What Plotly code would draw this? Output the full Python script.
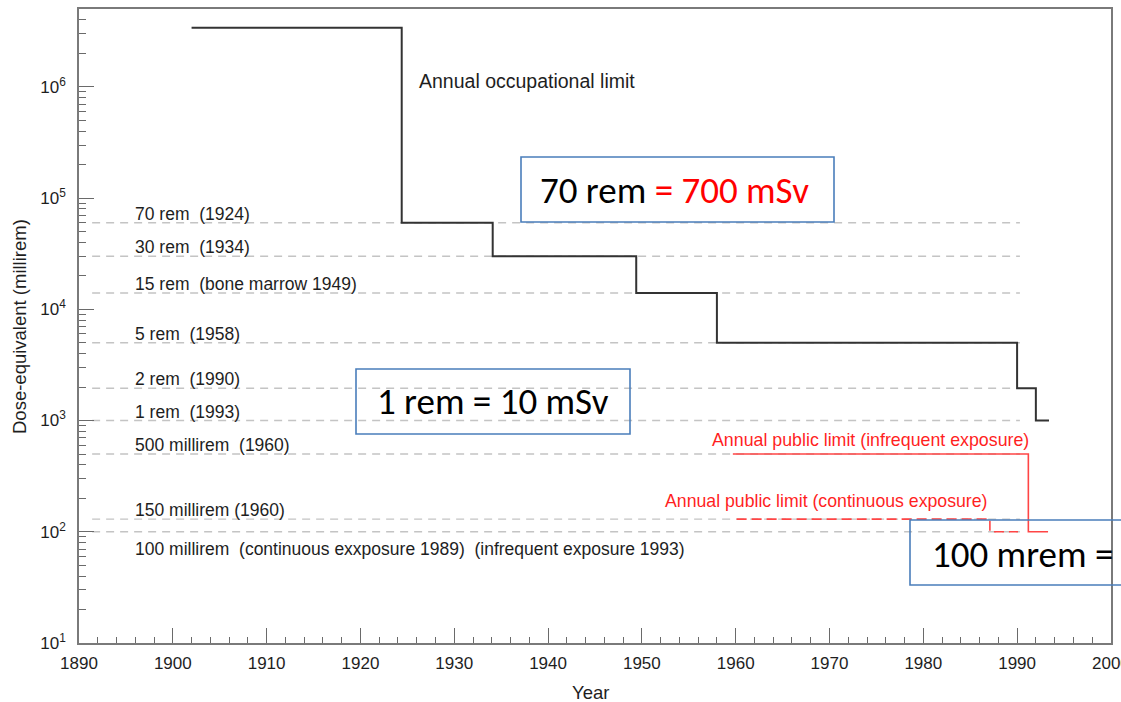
import math
import plotly.graph_objects as go

# ---------------- data ----------------
# Annual occupational limit (step curve, millirem)
occ_years = [1902, 1924.4, 1934.1, 1949.4, 1958, 1990, 1992, 1993.4]
occ_values = [3.4e6, 6e4, 3e4, 1.4e4, 5000, 1950, 1000, 1000]

# Annual public limit, infrequent exposure (solid red)
pub_inf_years = [1959.7, 1991.2, 1993.3]
pub_inf_values = [500, 100, 100]

# Annual public limit, continuous exposure (dashed red)
pub_cont_years = [1960.1, 1987.1, 1990.1]
pub_cont_values = [130, 100, 100]

# Reference levels (grey dashed lines) and their labels
ref_levels = [6e4, 3e4, 1.4e4, 5000, 1950, 1000, 500, 130, 100]
ref_labels = [
    "70 rem\u00a0 (1924)",
    "30 rem\u00a0 (1934)",
    "15 rem\u00a0 (bone marrow 1949)",
    "5 rem\u00a0 (1958)",
    "2 rem\u00a0 (1990)",
    "1 rem\u00a0 (1993)",
    "500 millirem\u00a0 (1960)",
    "150 millirem (1960)",
    "100 millirem\u00a0 (continuous exxposure 1989)\u00a0 (infrequent exposure 1993)",
]
ref_start_year = 1891.4
ref_end_year = 1990.3

x_ticks = [1890, 1900, 1910, 1920, 1930, 1940, 1950, 1960, 1970, 1980, 1990, 2000]
y_ticks = [1e1, 1e2, 1e3, 1e4, 1e5, 1e6]
y_ticktext = ["10<sup>1</sup>", "10<sup>2</sup>", "10<sup>3</sup>",
              "10<sup>4</sup>", "10<sup>5</sup>", "10<sup>6</sup>"]

# ---------------- layout constants ----------------
W, H = 1121, 702
ML, MR, MT, MB = 79, 10, 9, 59
PW, PH = W - ML - MR, H - MT - MB

LABEL_FONT = "Liberation Sans, Arial, Helvetica, sans-serif"
BOX_FONT = "Carlito, Calibri, Open Sans, sans-serif"
TXT = "#1e1e1e"
RED_LINE = "#ff4545"
RED_TXT = "#ff1f1f"
BLUE = "#4a7ebb"


def px(x):
    return (x - ML) / PW


def py(y):
    return (H - MB - y) / PH


fig = go.Figure()

# grey dashed reference lines
for lv in ref_levels:
    fig.add_trace(go.Scatter(
        x=[ref_start_year, ref_end_year], y=[lv, lv], mode="lines",
        line=dict(color="#c4c4c4", width=1.4, dash="8px,6px"),
        hoverinfo="skip", showlegend=False))

# occupational limit
fig.add_trace(go.Scatter(
    x=occ_years, y=occ_values, mode="lines", line_shape="hv",
    line=dict(color="#333333", width=2), showlegend=False))

# public limits
fig.add_trace(go.Scatter(
    x=pub_inf_years, y=pub_inf_values, mode="lines", line_shape="hv",
    line=dict(color=RED_LINE, width=1.6), showlegend=False))
fig.add_trace(go.Scatter(
    x=pub_cont_years, y=pub_cont_values, mode="lines", line_shape="hv",
    line=dict(color=RED_LINE, width=1.6, dash="10px,5px"), showlegend=False))

annotations = []
# reference-level labels
for i, (lv, lab) in enumerate(zip(ref_levels, ref_labels)):
    annotations.append(dict(
        x=1895.8, y=math.log10(lv), xref="x", yref="y", text=lab,
        showarrow=False, xanchor="left", yanchor="middle",
        yshift=(-17 if i == len(ref_levels) - 1 else 9),
        font=dict(family=LABEL_FONT, size=17.5, color=TXT)))

annotations.append(dict(
    x=1926.0, y=math.log10(occ_values[1]), xref="x", yref="y",
    text="Annual occupational limit", showarrow=False,
    xanchor="left", yanchor="middle", yshift=142,
    font=dict(family=LABEL_FONT, size=19.5, color=TXT)))

annotations.append(dict(
    x=1974.4, y=math.log10(pub_inf_values[0]), xref="x", yref="y",
    text="Annual public limit (infrequent exposure)", showarrow=False,
    xanchor="center", yanchor="middle", yshift=14,
    font=dict(family=LABEL_FONT, size=17.8, color=RED_TXT)))

annotations.append(dict(
    x=1969.6, y=math.log10(pub_cont_values[0]), xref="x", yref="y",
    text="Annual public limit (continuous exposure)", showarrow=False,
    xanchor="center", yanchor="middle", yshift=18,
    font=dict(family=LABEL_FONT, size=17.7, color=RED_TXT)))

# axis titles
annotations.append(dict(
    x=px(590), y=py(692), xref="paper", yref="paper", text="Year",
    showarrow=False, xanchor="center", yanchor="middle",
    font=dict(family=LABEL_FONT, size=18.5, color=TXT)))
annotations.append(dict(
    x=px(19), y=py(327), xref="paper", yref="paper",
    text="Dose-equivalent (millirem)", textangle=-90,
    showarrow=False, xanchor="center", yanchor="middle",
    font=dict(family=LABEL_FONT, size=18.5, color=TXT)))

# overlay text boxes
annotations.append(dict(
    x=px(674), y=py(190), xref="paper", yref="paper",
    text="70 rem <span style='color:#ff0000'>= 700 mSv</span>",
    showarrow=False, xanchor="center", yanchor="middle",
    font=dict(family=BOX_FONT, size=37, color="#000000")))
annotations.append(dict(
    x=px(493), y=py(402), xref="paper", yref="paper",
    text="1 rem = 10 mSv", showarrow=False, xanchor="center", yanchor="middle",
    font=dict(family=BOX_FONT, size=37, color="#000000")))
annotations.append(dict(
    x=px(930), y=py(554), xref="paper", yref="paper",
    text="100 mrem =", showarrow=False, xanchor="left", yanchor="middle",
    font=dict(family=BOX_FONT, size=37, color="#000000")))

shapes = [
    dict(type="rect", xref="paper", yref="paper",
         x0=px(521), x1=px(834), y0=py(222), y1=py(157),
         line=dict(color=BLUE, width=1.6), fillcolor="rgba(0,0,0,0)"),
    dict(type="rect", xref="paper", yref="paper",
         x0=px(356), x1=px(630), y0=py(434), y1=py(369),
         line=dict(color=BLUE, width=1.6), fillcolor="rgba(0,0,0,0)"),
    dict(type="path", xref="paper", yref="paper",
         path="M {a},{b} L {c},{b} L {c},{d} L {a},{d}".format(
             a=px(W + 5), b=py(520), c=px(910), d=py(585)),
         line=dict(color=BLUE, width=1.6)),
]

axis_common = dict(
    showline=True, linecolor="#7a7a7a", linewidth=1.6, mirror=True,
    ticks="inside", ticklen=15, tickwidth=1.3, tickcolor="#6a6a6a",
    showgrid=False, zeroline=False, automargin=False,
    tickfont=dict(family=LABEL_FONT, size=17, color=TXT),
)

minor_y = [m * 10 ** e for e in range(1, 7) for m in range(2, 10)]

fig.update_layout(
    width=W, height=H,
    margin=dict(l=ML, r=MR, t=MT, b=MB, pad=0, autoexpand=False),
    paper_bgcolor="white", plot_bgcolor="white",
    showlegend=False,
    xaxis=dict(
        range=[1890, 2000.01], tickmode="array", tickvals=x_ticks,
        ticklabelstandoff=4, ticklabeloverflow="allow",
        minor=dict(ticks="inside", ticklen=6, tickwidth=1.2,
                   tickcolor="#6a6a6a", dtick=2, tick0=1890),
        **axis_common),
    yaxis=dict(
        type="log", range=[1, 6.70], tickmode="array",
        tickvals=y_ticks, ticktext=y_ticktext, ticklabelstandoff=8,
        minor=dict(ticks="inside", ticklen=7, tickwidth=1.2,
                   tickcolor="#6a6a6a", tickmode="array", tickvals=minor_y),
        **axis_common),
    annotations=annotations,
    shapes=shapes,
)

fig.write_html("out.html")
